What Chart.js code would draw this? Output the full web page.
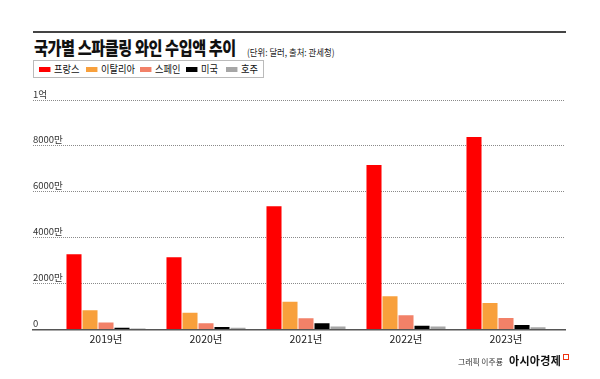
<!DOCTYPE html>
<html>
<head>
<meta charset="utf-8">
<script src="https://cdn.jsdelivr.net/npm/chart.js@4/dist/chart.umd.min.js"></script>
<style>
  html, body { margin: 0; padding: 0; background: #fff; }
  #wrap { position: relative; width: 600px; height: 379px; overflow: hidden; font-family: "Noto Sans CJK KR", "Noto Sans", sans-serif; }
  #topline { position: absolute; left: 33px; top: 31px; width: 533px; height: 2px; background: #444; }
  #title { position: absolute; left: 34px; top: 34px; font-size: 18.5px; font-weight: 900; color: #111; transform: scaleX(0.82); transform-origin: left top; white-space: nowrap; letter-spacing: -0.5px; }
  #sub { position: absolute; left: 247px; top: 45px; font-size: 9.5px; color: #222; transform: scaleX(0.88); transform-origin: left top; white-space: nowrap; }
  #legend { position: absolute; left: 33px; top: 60px; width: 229px; height: 16px; border: 1px solid #bbb; }
  .li { position: absolute; top: 0; height: 16px; font-size: 10.5px; line-height: 16px; color: #111; white-space: nowrap; transform: scaleX(0.88); transform-origin: left center; }
  .sw { display: inline-block; width: 13px; height: 5px; vertical-align: middle; margin-right: 4px; position: relative; top: -1px; }
  #credit { position: absolute; left: 458px; top: 355px; font-size: 8.5px; color: #333; white-space: nowrap; transform: scaleX(0.92); transform-origin: left top; }
  #brand { position: absolute; left: 509px; top: 352px; font-size: 11px; font-weight: 700; color: #111; white-space: nowrap; letter-spacing: 0.3px; }
  #logo { position: absolute; left: 563px; top: 354px; width: 4px; height: 4px; border: 1px solid #e31; }
  canvas { position: absolute; left: 0; top: 0; }
</style>
</head>
<body>
<div id="wrap">
  <div id="topline"></div>
  <div id="title">국가별 스파클링 와인 수입액 추이</div>
  <div id="sub">(단위: 달러, 출처: 관세청)</div>
  <div id="legend"></div>
  <canvas id="c" width="600" height="379"></canvas>
  <div id="credit">그래픽 이주룡</div>
  <div id="brand">아시아경제</div>
  <div id="logo"></div>
</div>
<script>
// values in 만 달러 (10,000 USD)
const years = ['2019년', '2020년', '2021년', '2022년', '2023년'];
const seriesNames = ['프랑스', '이탈리아', '스페인', '미국', '호주'];
const france    = [3280, 3140, 5370, 7170, 8390];
const italy     = [830, 730, 1200, 1440, 1150];
const spain     = [300, 270, 490, 620, 500];
const usa       = [70, 100, 270, 160, 190];
const australia = [40, 70, 130, 130, 90];
const yTicks = [0, 2000, 4000, 6000, 8000, 10000];
const yTickLabels = ['0', '2000만', '4000만', '6000만', '8000만', '1억'];

const colors = ['#ff0000', '#f8a03c', '#f28168', '#000000', '#a6a6a6'];
const allSeries = [france, italy, spain, usa, australia];
const legendLeft = [5, 52, 106, 152, 192];

const legend = document.getElementById('legend');
seriesNames.forEach((n, i) => {
  const d = document.createElement('div');
  d.className = 'li';
  d.style.left = legendLeft[i] + 'px';
  d.innerHTML = '<span class="sw" style="background:' + colors[i] + '"></span>' + n;
  legend.appendChild(d);
});

new Chart(document.getElementById('c'), {
  type: 'bar',
  data: {
    datasets: allSeries.map((vals, i) => ({
      label: seriesNames[i],
      data: vals.map((v, k) => ({ x: k, y: v })),
      backgroundColor: colors[i],
      borderWidth: 0,
      categoryPercentage: 0.8,
      barPercentage: 0.94
    }))
  },
  options: {
    responsive: false,
    animation: false,
    layout: { padding: { left: 33, right: 35, top: 100, bottom: 31 } },
    plugins: { legend: { display: false }, tooltip: { enabled: false } },
    scales: {
      x: {
        type: 'linear',
        offset: false,
        min: -0.73,
        max: 4.59,
        afterBuildTicks: (s) => { s.ticks = years.map((_, k) => ({ value: k })); },
        ticks: {
          callback: (v) => years[v] || '',
          font: { family: '"Noto Sans CJK KR", sans-serif', size: 10.5 },
          color: '#222',
          padding: 3,
          maxRotation: 0,
          autoSkip: false
        },
        grid: { display: false, drawTicks: false, offset: false },
        border: { display: true, color: '#555', width: 1.5 }
      },
      y: {
        min: 0,
        max: 10000,
        afterBuildTicks: (s) => { s.ticks = yTicks.map(v => ({ value: v })); },
        ticks: {
          mirror: true,
          padding: 0,
          labelOffset: -6,
          callback: (v) => yTickLabels[yTicks.indexOf(v)],
          font: { family: '"Noto Sans CJK KR", sans-serif', size: 9.5 },
          color: '#333'
        },
        grid: { color: '#8a8a8a', lineWidth: 1, drawTicks: false, tickLength: 0 },
        border: { display: false, dash: [1, 1] }
      }
    }
  }
});
</script>
</body>
</html>
